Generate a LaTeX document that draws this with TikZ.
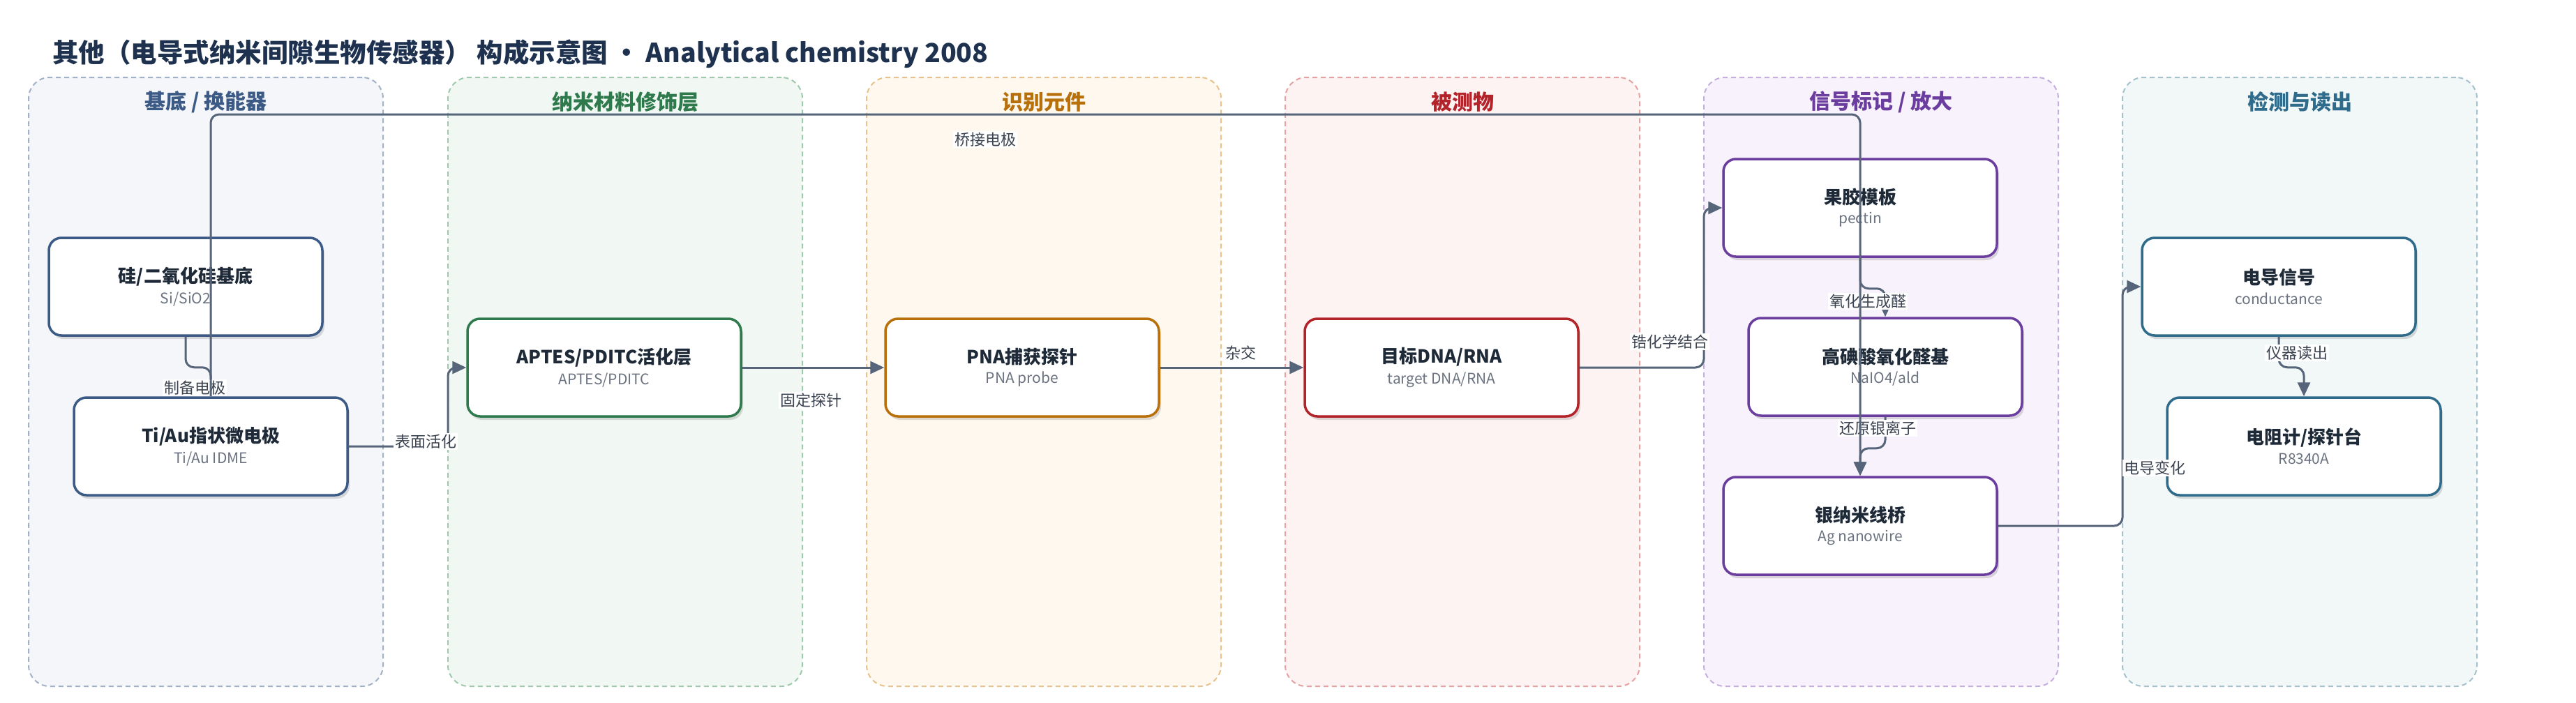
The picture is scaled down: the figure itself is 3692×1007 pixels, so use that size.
\documentclass[tikz,border=0pt]{standalone}
\usepackage{fontspec}
\setmainfont{Noto Sans CJK SC}
\usetikzlibrary{arrows.meta,shadows}
\definecolor{ttl}{HTML}{1E3250}
\definecolor{edgec}{HTML}{56657A}
\definecolor{lblc}{HTML}{3C4350}
\definecolor{ntext}{HTML}{1E2A38}
\definecolor{nsub}{HTML}{6B7280}
\definecolor{cA}{HTML}{3C5A86}\definecolor{fA}{HTML}{F4F6FA}\definecolor{bA}{HTML}{A3B1C6}
\definecolor{cB}{HTML}{2E7A4C}\definecolor{fB}{HTML}{F1F8F3}\definecolor{bB}{HTML}{9FC9AC}
\definecolor{cC}{HTML}{B8700A}\definecolor{fC}{HTML}{FEF8EE}\definecolor{bC}{HTML}{E8C28A}
\definecolor{cD}{HTML}{B3242A}\definecolor{fD}{HTML}{FEF3F3}\definecolor{bD}{HTML}{E9A0A0}
\definecolor{cE}{HTML}{6A3D9E}\definecolor{fE}{HTML}{F7F2FB}\definecolor{bE}{HTML}{C7AEE0}
\definecolor{cF}{HTML}{2F6C8C}\definecolor{fF}{HTML}{F2F7F8}\definecolor{bF}{HTML}{A4C2CE}
\newcommand{\ndtext}[2]{{\fontsize{26}{32}\selectfont\bfseries\color{ntext}#1}\\[8pt]{\fontsize{21}{26}\selectfont\color{nsub}#2}}
\begin{document}
\begin{tikzpicture}[x=1pt,y=-1pt,
  grp/.style={rectangle, rounded corners=30pt, dashed, dash pattern=on 7pt off 5pt, line width=2pt, minimum width=508pt, minimum height=873pt, inner sep=0pt},
  gtitle/.style={font=\fontsize{30}{36}\selectfont\bfseries, inner sep=0pt},
  nd/.style={rectangle, rounded corners=18pt, line width=3.5pt, fill=white, minimum width=392pt, minimum height=140pt, align=center, inner sep=0pt,
    drop shadow={shadow xshift=3pt, shadow yshift=-5pt, opacity=0.13, fill=black}},
  edge/.style={draw=edgec, line width=3pt, rounded corners=12pt, -{Triangle[length=20pt,width=18pt]}},
  lbl/.style={fill=white, inner sep=2pt, text=lblc, font=\fontsize{22}{26}\selectfont}
]
\useasboundingbox[fill=white] (0,0) rectangle (3692,1007);
\node[anchor=west, inner sep=0pt, text=ttl, font=\fontsize{37.5}{45}\selectfont\bfseries] (title) at (75,77) {其他（电导式纳米间隙生物传感器） 构成示意图 · Analytical chemistry 2008};
% groups
\node[grp, fill=fA, draw=bA] (G1) at (295,547.5) {};
\node[grp, fill=fB, draw=bB] (G2) at (896,547.5) {};
\node[grp, fill=fC, draw=bC] (G3) at (1496,547.5) {};
\node[grp, fill=fD, draw=bD] (G4) at (2096,547.5) {};
\node[grp, fill=fE, draw=bE] (G5) at (2696,547.5) {};
\node[grp, fill=fF, draw=bF] (G6) at (3296,547.5) {};
\node[gtitle, text=cA] (T1) at (295,146) {基底 / 换能器};
\node[gtitle, text=cB] (T2) at (896,146) {纳米材料修饰层};
\node[gtitle, text=cC] (T3) at (1496,146) {识别元件};
\node[gtitle, text=cD] (T4) at (2096,146) {被测物};
\node[gtitle, text=cE] (T5) at (2696,146) {信号标记 / 放大};
\node[gtitle, text=cF] (T6) at (3296,146) {检测与读出};
% nodes
\node[nd, draw=cA] (sub) at (266,411) {\ndtext{硅/二氧化硅基底}{Si/SiO2}};
\node[nd, draw=cA] (ti) at (302,640) {\ndtext{Ti/Au指状微电极}{Ti/Au IDME}};
\node[nd, draw=cB] (aptes) at (866,527) {\ndtext{APTES/PDITC活化层}{APTES/PDITC}};
\node[nd, draw=cC] (pna) at (1465,527) {\ndtext{PNA捕获探针}{PNA probe}};
\node[nd, draw=cD] (dna) at (2066,527) {\ndtext{目标DNA/RNA}{target DNA/RNA}};
\node[nd, draw=cE] (pectin) at (2666,298) {\ndtext{果胶模板}{pectin}};
\node[nd, draw=cE] (naio) at (2702,526) {\ndtext{高碘酸氧化醛基}{NaIO4/ald}};
\node[nd, draw=cE] (ag) at (2666,754) {\ndtext{银纳米线桥}{Ag nanowire}};
\node[nd, draw=cF] (cond) at (3266,411) {\ndtext{电导信号}{conductance}};
\node[nd, draw=cF] (meter) at (3302,640) {\ndtext{电阻计/探针台}{R8340A}};
% edges
\draw[edge] (sub.south) -- ++(0,44) -| (ti.north);
\node[lbl] (l1) at (279,556) {制备电极};
\draw[edge] (ti.east) -- (642,640) |- (aptes.west);
\node[lbl] (l2) at (610,633) {表面活化};
\draw[edge] (aptes.east) -- (pna.west);
\node[lbl] (l3) at (1162,574) {固定探针};
\draw[edge] (pna.east) -- (dna.west);
\node[lbl] (l4) at (1778,506) {杂交};
\draw[edge] (dna.east) -- (2442,527) |- (pectin.west);
\node[lbl] (l5) at (2393,490) {锆化学结合};
\draw[edge] (pectin.south) -- ++(0,44) -| (naio.north);
\node[lbl] (l6) at (2677,432) {氧化生成醛};
\draw[edge] (naio.south) -- ++(0,45) -| (ag.north);
\node[lbl] (l7) at (2691,614) {还原银离子};
\draw[edge] (ag.east) -- (3042,754) |- (cond.west);
\node[lbl] (l8) at (3088,671) {电导变化};
\draw[edge] (cond.south) -- ++(0,44) -| (meter.north);
\node[lbl] (l9) at (3292,506) {仪器读出};
\draw[edge] (ti.north) -- (302,164) -| (ag.north);
\node[lbl] (l10) at (1412,200) {桥接电极};
\end{tikzpicture}
\end{document}
